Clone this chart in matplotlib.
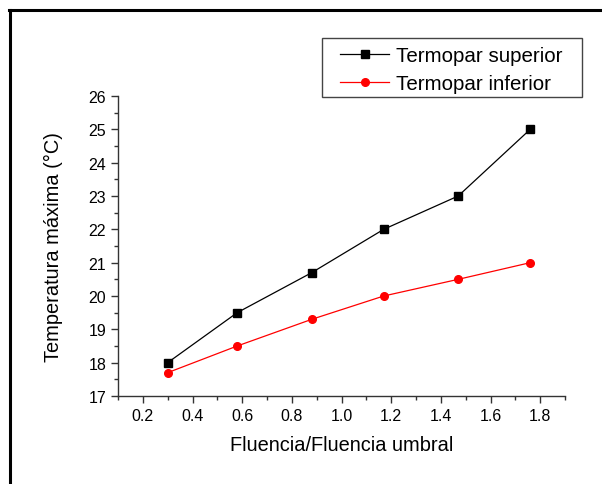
import matplotlib.pyplot as plt
from matplotlib.lines import Line2D
from matplotlib.patches import Rectangle
from matplotlib.ticker import MultipleLocator

plt.rcParams['font.family'] = ['Liberation Sans', 'DejaVu Sans']

fluencia = [0.30, 0.58, 0.88, 1.17, 1.47, 1.76]
t_superior = [18.0, 19.5, 20.7, 22.0, 23.0, 25.0]
t_inferior = [17.7, 18.5, 19.3, 20.0, 20.5, 21.0]

W, H = 602, 485
fig = plt.figure(figsize=(W / 100, H / 100), dpi=100)
ax = fig.add_axes([118 / W, 88 / H, 447 / W, 300 / H])

ax.plot(fluencia, t_superior, color="black", linewidth=0.9, marker="s",
        markersize=5.5, label="Termopar superior")
ax.plot(fluencia, t_inferior, color="red", linewidth=0.9, marker="o",
        markersize=5.5, label="Termopar inferior")

ax.set_xlim(0.1, 1.9)
ax.set_ylim(17, 26)
ax.xaxis.set_major_locator(MultipleLocator(0.2))
ax.xaxis.set_minor_locator(MultipleLocator(0.1))
ax.yaxis.set_major_locator(MultipleLocator(1))
ax.yaxis.set_minor_locator(MultipleLocator(0.5))
ax.xaxis.set_major_formatter(plt.FuncFormatter(lambda v, p: f"{v:.1f}"))

ax.spines["top"].set_visible(False)
ax.spines["right"].set_visible(False)
for s in ("left", "bottom"):
    ax.spines[s].set_color("#333333")
    ax.spines[s].set_linewidth(1.0)
ax.tick_params(which="major", direction="out", length=5, width=1, labelsize=11.5,
               colors="#333333", labelcolor="black")
ax.tick_params(which="minor", direction="out", length=3, width=1, colors="#333333")

ax.set_xlabel("Fluencia/Fluencia umbral", fontsize=14.4, labelpad=9)
ax.set_ylabel("Temperatura máxima (°C)", fontsize=14.4, labelpad=18)

# legend contents without frame, frame drawn separately
fig.legend(loc="upper left", bbox_to_anchor=(340 / W, 1 - 47 / H),
           frameon=False, fontsize=14.8, borderaxespad=0, borderpad=0,
           handlelength=2.4, handletextpad=0.3, labelspacing=0.45)
fig.add_artist(Rectangle((322 / W, 1 - 98 / H), 260 / W, 59 / H, fill=False,
                         edgecolor="#444444", linewidth=1.0, transform=fig.transFigure))

# figure frame (left and top edges visible)
fig.add_artist(Line2D([10 / W, 10 / W], [0, 1 - 11 / H], color="black",
                      linewidth=2.2, transform=fig.transFigure))
fig.add_artist(Line2D([9 / W, 1], [1 - 11 / H, 1 - 11 / H], color="black",
                      linewidth=2.2, transform=fig.transFigure))

fig.savefig("out.png", dpi=100)
